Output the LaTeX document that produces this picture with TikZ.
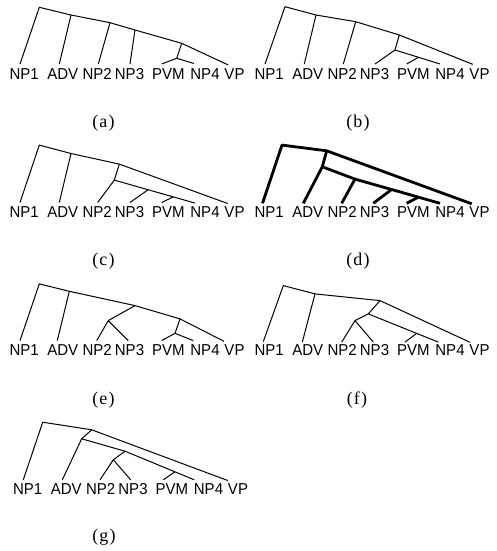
\documentclass[tikz,border=0pt]{standalone}
\usepackage{fontspec}
\setmainfont{Liberation Serif}
\setsansfont[FakeStretch=0.95]{Liberation Sans}
\usetikzlibrary{calc}
\tikzset{
  lbl/.style={font=\sffamily\fontsize{15.8}{16}\selectfont, anchor=base, inner sep=0pt},
  captxt/.style={font=\rmfamily\fontsize{18}{20}\selectfont, anchor=base, inner sep=0pt},
  br/.style={line width=1pt, line join=round},
  bold/.style={line width=2.8pt, line join=round},
}
\newcommand\treelabels[1]{%
  \node[lbl] (#1-NP1) at (24.2,79) {NP1};
  \node[lbl] (#1-ADV) at (62.8,79) {ADV};
  \node[lbl] (#1-NP2) at (97.2,79) {NP2};
  \node[lbl] (#1-NP3) at (129.5,79) {NP3};
  \node[lbl] (#1-PVM) at (168.3,79) {PVM};
  \node[lbl] (#1-NP4) at (205,79) {NP4};
  \node[lbl] (#1-VP) at (234.5,79) {VP};
}
\newcommand\captext[1]{(\kern1.2pt#1\kern1.2pt)}
\begin{document}
\begin{tikzpicture}[x=1pt,y=-1pt]
\useasboundingbox (0,0) rectangle (496,551);

% ---------- (a) ----------
\begin{scope}[shift={(0,0)}]
  \treelabels{a}
  \coordinate (a-r) at (39.3,7.3);
  \coordinate (a-s1) at (71,15);
  \coordinate (a-s2) at (110,22.7);
  \coordinate (a-s3) at (135,30);
  \coordinate (a-s4) at (181.7,43.3);
  \coordinate (a-t) at (176.7,58.3);
  \coordinate (a-1) at (20,64);
  \coordinate (a-2) at (59.3,64);
  \coordinate (a-3) at (98.3,64);
  \coordinate (a-4) at (130,64);
  \coordinate (a-5) at (161.7,64);
  \coordinate (a-6) at (194,63.5);
  \coordinate (a-7) at (228.3,65);
  \draw[br] (a-1) -- (a-r) -- (a-s1) -- (a-s2) -- (a-s3) -- (a-s4) -- (a-7);
  \draw[br] (a-s1) -- (a-2);
  \draw[br] (a-s2) -- (a-3);
  \draw[br] (a-s3) -- (a-4);
  \draw[br] (a-s4) -- (a-t);
  \draw[br] (a-5) -- (a-t) -- (a-6);
\end{scope}

% ---------- (b) ----------
\begin{scope}[shift={(245,0)}]
  \treelabels{b}
  \coordinate (b-r) at (40,6.7);
  \coordinate (b-s1) at (71,15);
  \coordinate (b-s2) at (110.7,21.7);
  \coordinate (b-s3) at (154.3,35);
  \coordinate (b-j) at (150,50);
  \coordinate (b-1) at (20,64);
  \coordinate (b-2) at (59.3,64);
  \coordinate (b-3) at (98.3,64);
  \coordinate (b-4) at (130,64);
  \coordinate (b-5) at (161.7,64);
  \coordinate (b-6) at (195,64);
  \coordinate (b-7) at (227.7,64.3);
  \coordinate (b-k) at ($(b-j)!0.52!(b-6)$);
  \draw[br] (b-1) -- (b-r) -- (b-s1) -- (b-s2) -- (b-s3) -- (b-7);
  \draw[br] (b-s1) -- (b-2);
  \draw[br] (b-s2) -- (b-3);
  \draw[br] (b-s3) -- (b-j);
  \draw[br] (b-4) -- (b-j) -- (b-6);
  \draw[br] (b-k) -- (b-5);
\end{scope}

% ---------- (c) ----------
\begin{scope}[shift={(0,138.3)}]
  \treelabels{c}
  \coordinate (c-r) at (39.3,6.8);
  \coordinate (c-s1) at (71,15.2);
  \coordinate (c-s2) at (119.3,25.8);
  \coordinate (c-j) at (114.3,41.8);
  \coordinate (c-1) at (20,64.2);
  \coordinate (c-2) at (59.3,64.2);
  \coordinate (c-3) at (97.7,64.2);
  \coordinate (c-4) at (130,64.2);
  \coordinate (c-5) at (161.7,64.2);
  \coordinate (c-6) at (195,64.8);
  \coordinate (c-7) at (227.7,65.2);
  \coordinate (c-b1) at ($(c-j)!0.42!(c-6)$);
  \coordinate (c-b2) at ($(c-j)!0.73!(c-6)$);
  \draw[br] (c-1) -- (c-r) -- (c-s1) -- (c-s2) -- (c-7);
  \draw[br] (c-s1) -- (c-2);
  \draw[br] (c-s2) -- (c-j);
  \draw[br] (c-3) -- (c-j) -- (c-6);
  \draw[br] (c-b1) -- (c-4);
  \draw[br] (c-b2) -- (c-5);
\end{scope}

% ---------- (d) ----------
\begin{scope}[shift={(245,138.3)}]
  \treelabels{d}
  \coordinate (d-r) at (37,6.8);
  \coordinate (d-s1) at (81.7,12.5);
  \coordinate (d-j) at (77.3,28.5);
  \coordinate (d-k) at (110,40.8);
  \coordinate (d-1) at (17.5,65);
  \coordinate (d-2) at (58.3,65);
  \coordinate (d-3) at (96.7,65);
  \coordinate (d-4) at (128.3,65);
  \coordinate (d-5) at (161.7,65);
  \coordinate (d-6) at (195,65);
  \coordinate (d-7) at (226.7,65.5);
  \coordinate (d-b1) at ($(d-k)!0.43!(d-6)$);
  \coordinate (d-b2) at ($(d-k)!0.745!(d-6)$);
  \draw[bold] (d-1) -- (d-r) -- (d-s1) -- (d-7);
  \draw[bold] (d-s1) -- (d-j);
  \draw[bold] (d-2) -- (d-j) -- (d-k) -- (d-6);
  \draw[bold] (d-k) -- (d-3);
  \draw[bold] (d-b1) -- (d-4);
  \draw[bold] (d-b2) -- (d-5);
\end{scope}

% ---------- (e) ----------
\begin{scope}[shift={(0,276.6)}]
  \treelabels{e}
  \coordinate (e-r) at (39.3,7.3);
  \coordinate (e-s1) at (69.3,14.7);
  \coordinate (e-s2) at (135,29);
  \coordinate (e-s3) at (180,42.3);
  \coordinate (e-u) at (108.3,44);
  \coordinate (e-t) at (175,56.7);
  \coordinate (e-1) at (20,64);
  \coordinate (e-2) at (57.3,64);
  \coordinate (e-3) at (96.7,64);
  \coordinate (e-4) at (128.3,64);
  \coordinate (e-5) at (161.7,64);
  \coordinate (e-6) at (193.3,64);
  \coordinate (e-7) at (224,64.7);
  \draw[br] (e-1) -- (e-r) -- (e-s1) -- (e-s2) -- (e-s3) -- (e-7);
  \draw[br] (e-s1) -- (e-2);
  \draw[br] (e-s2) -- (e-u);
  \draw[br] (e-3) -- (e-u) -- (e-4);
  \draw[br] (e-s3) -- (e-t);
  \draw[br] (e-5) -- (e-t) -- (e-6);
\end{scope}

% ---------- (f) ----------
\begin{scope}[shift={(245,276.6)}]
  \treelabels{f}
  \coordinate (f-r) at (38.3,9);
  \coordinate (f-s1) at (70,17.3);
  \coordinate (f-s2) at (135,24);
  \coordinate (f-j) at (123.3,37.3);
  \coordinate (f-u) at (110,44);
  \coordinate (f-1) at (18.3,65);
  \coordinate (f-2) at (57.3,65.5);
  \coordinate (f-3) at (96.7,65.5);
  \coordinate (f-4) at (128.3,65.5);
  \coordinate (f-5) at (160,65.5);
  \coordinate (f-6) at (193.3,65.5);
  \coordinate (f-7) at (225,65.7);
  \coordinate (f-b) at ($(f-j)!0.69!(f-6)$);
  \draw[br] (f-1) -- (f-r) -- (f-s1) -- (f-s2) -- (f-7);
  \draw[br] (f-s1) -- (f-2);
  \draw[br] (f-s2) -- (f-j) -- (f-u);
  \draw[br] (f-3) -- (f-u) -- (f-4);
  \draw[br] (f-j) -- (f-6);
  \draw[br] (f-b) -- (f-5);
\end{scope}

% ---------- (g) ----------
\begin{scope}[shift={(3.5,415)}]
  \treelabels{g}
  \coordinate (g-r) at (39.2,7.2);
  \coordinate (g-s1) at (88.2,14.8);
  \coordinate (g-j) at (78.2,23.8);
  \coordinate (g-m) at (121.5,36.2);
  \coordinate (g-u) at (109.8,44.8);
  \coordinate (g-1) at (19.8,64.8);
  \coordinate (g-2) at (58.8,64.8);
  \coordinate (g-3) at (96.5,64.8);
  \coordinate (g-4) at (127.2,64.8);
  \coordinate (g-5) at (159.8,64.8);
  \coordinate (g-6) at (190.8,64.8);
  \coordinate (g-7) at (224.2,65.5);
  \coordinate (g-b) at ($(g-m)!0.72!(g-6)$);
  \draw[br] (g-1) -- (g-r) -- (g-s1) -- (g-7);
  \draw[br] (g-s1) -- (g-j);
  \draw[br] (g-2) -- (g-j) -- (g-m) -- (g-6);
  \draw[br] (g-m) -- (g-u);
  \draw[br] (g-3) -- (g-u) -- (g-4);
  \draw[br] (g-b) -- (g-5);
\end{scope}

% ---------- captions ----------
\node[captxt] (capa) at (103.5,127.5) {\captext{a}};
\node[captxt] (capb) at (358,127.5) {\captext{b}};
\node[captxt] (capc) at (103.5,265.8) {\captext{c}};
\node[captxt] (capd) at (358,265.8) {\captext{d}};
\node[captxt] (cape) at (103.5,404.1) {\captext{e}};
\node[captxt] (capf) at (357,404.1) {\captext{f}};
\node[captxt] (capg) at (104,541.5) {\captext{g}};
\end{tikzpicture}
\end{document}
